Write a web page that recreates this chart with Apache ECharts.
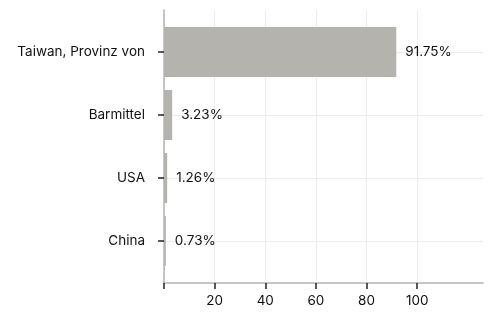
<!DOCTYPE html>
<html>
<head>
<meta charset="utf-8">
<script src="https://cdn.jsdelivr.net/npm/echarts@6/dist/echarts.min.js"></script>
<style>
  html, body { margin: 0; padding: 0; background: #fff; }
  #chart { width: 489px; height: 314px; }
</style>
</head>
<body>
<div id="chart"></div>
<script>
// data
const categories = ["Taiwan, Provinz von", "Barmittel", "USA", "China"];
const shares = [91.75, 3.23, 1.26, 0.73];
const tickValues = [0, 20, 40, 60, 80, 100];
const tickLabels = [20, 40, 60, 80, 100];

const chart = echarts.init(document.getElementById("chart"));
const font = "Inter, 'DejaVu Sans', sans-serif";
const axisGray = "#b4b4b4";
const gridGray = "#ececec";
const textColor = "#111";
const fontSize = 13.5;

let option = {
  animation: false,
  textStyle: { fontFamily: font },
  grid: [
    // background grid: axis lines, vertical gridlines, x labels
    { left: 164, right: 6, top: 10, height: 273 },
    // bars
    { left: 164, right: 6, top: 20.5, height: 252 }
  ],
  xAxis: [
    {
      gridIndex: 0,
      type: "value",
      min: 0,
      max: 126,
      interval: 20,
      axisLine: { show: true, lineStyle: { color: axisGray, width: 1.5 } },
      axisTick: {
        show: true,
        customValues: tickValues,
        length: 6,
        lineStyle: { color: "#222", width: 1.5 }
      },
      axisLabel: {
        customValues: tickLabels,
        margin: 11,
        color: textColor,
        fontSize: fontSize,
        fontFamily: font
      },
      splitLine: { show: true, lineStyle: { color: gridGray, width: 1 } }
    },
    {
      gridIndex: 1,
      type: "value",
      min: 0,
      max: 126,
      show: false
    }
  ],
  yAxis: [
    {
      gridIndex: 0,
      type: "value",
      min: 0,
      max: 1,
      axisLine: { show: true, lineStyle: { color: axisGray, width: 1.5 } },
      axisTick: { show: false },
      axisLabel: { show: false },
      splitLine: { show: false }
    },
    {
      gridIndex: 1,
      type: "category",
      inverse: true,
      data: categories,
      axisLine: { show: false },
      axisTick: {
        show: true,
        alignWithLabel: true,
        length: 6,
        lineStyle: { color: "#222", width: 1.5 }
      },
      axisLabel: {
        margin: 19,
        color: textColor,
        fontSize: fontSize,
        fontFamily: font
      },
      splitLine: { show: false }
    }
  ],
  series: [
    {
      // horizontal gridlines through category centres
      type: "line",
      xAxisIndex: 1,
      yAxisIndex: 1,
      data: [],
      z: 0,
      markLine: {
        z: 0,
        silent: true,
        symbol: "none",
        label: { show: false },
        lineStyle: { color: gridGray, width: 1, type: "solid" },
        data: categories.map(c => ({ yAxis: c }))
      }
    },
    {
      type: "bar",
      xAxisIndex: 1,
      yAxisIndex: 1,
      data: shares,
      z: 3,
      barWidth: 50,
      itemStyle: { color: "#b5b3ae" },
      label: {
        show: true,
        position: "right",
        distance: 9,
        color: textColor,
        fontSize: fontSize,
        fontFamily: font,
        formatter: p => p.value.toFixed(2) + "%"
      }
    }
  ]
};

chart.setOption(option);
</script>
</body>
</html>
